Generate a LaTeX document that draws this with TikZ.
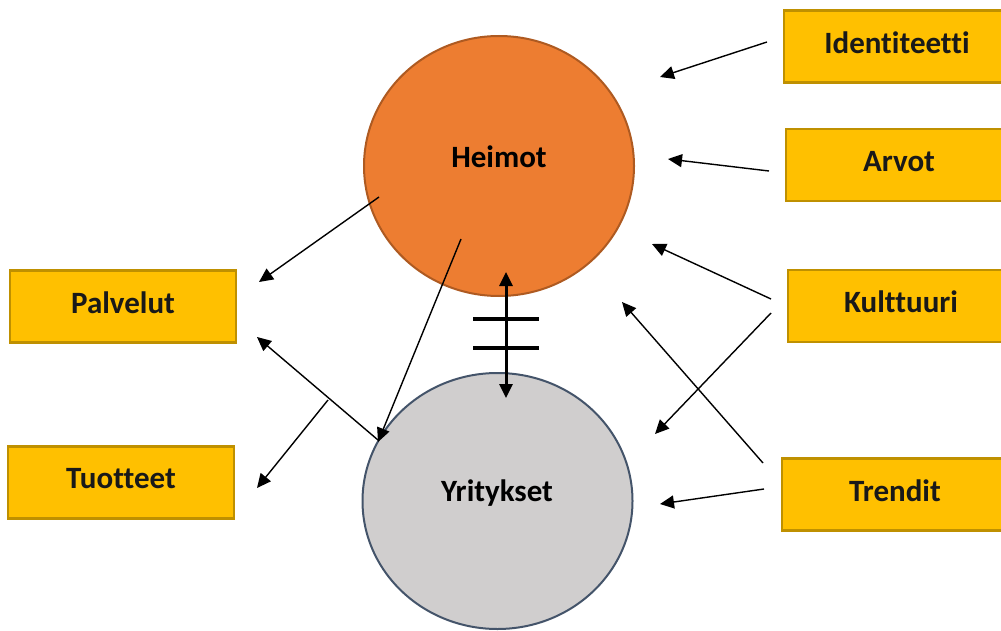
\documentclass[tikz,border=0pt]{standalone}
\usepackage{fontspec}
\setmainfont{Carlito}[Ligatures=NoCommon]
\usetikzlibrary{arrows.meta,shapes.geometric}

\definecolor{heimocol}{HTML}{ED7D31}
\definecolor{heimoline}{HTML}{AE5A21}
\definecolor{yritcol}{HTML}{D0CECE}
\definecolor{yritline}{HTML}{44546A}
\definecolor{boxcol}{HTML}{FFC000}
\definecolor{boxline}{HTML}{BF9000}

\begin{document}
\begin{tikzpicture}[x=0.5pt, y=-0.5pt, >={Triangle[length=7pt,width=6.5pt]},
                line width=0.7pt,
                main node/.style={ellipse,draw,line width=1pt,inner sep=0pt,
                  minimum width=135pt,minimum height=130pt,
                  font=\fontsize{15.5}{18}\selectfont\bfseries,text=black!90},
                term box/.style={rectangle,draw=boxline,fill=boxcol,line width=1.3pt,
                  minimum width=113pt,minimum height=36pt,text depth=4pt,
                  font=\fontsize{15.5}{18}\selectfont\bfseries,text=black!90}]

  \useasboundingbox (0,0) rectangle (1001,631);

  % the two groups
  \node[main node, fill=heimocol, draw=heimoline] (heimot) at (499,166) {};
  \node at (499,157) {\fontsize{15.5}{18}\selectfont\bfseries Heimot};
  \node[main node, fill=yritcol, draw=yritline, minimum height=128pt] (yritykset) at (497.5,501) {};
  \node at (497,493) {\fontsize{15.5}{18}\selectfont\bfseries Yritykset};

  % the terms
  \node[term box] (ident) at (897,46.5) {Identiteetti};
  \node[term box] (arvot) at (899,165) {Arvot};
  \node[term box] (kult) at (901,306) {Kulttuuri};
  \node[term box] (trend) at (895,494.5) {Trendit};
  \node[term box] (palv) at (123,306.5) {Palvelut};
  \node[term box] (tuot) at (121,482.5) {Tuotteet};

  % arrow ends
  \coordinate (i1) at (767,42);   \coordinate (i2) at (660,77);
  \coordinate (a1) at (769,171);  \coordinate (a2) at (668,159);
  \coordinate (k1) at (771,299);  \coordinate (k2) at (652,244);
  \coordinate (k3) at (771,313);  \coordinate (k4) at (655,434);
  \coordinate (t1) at (763,463);  \coordinate (t2) at (622,302);
  \coordinate (t3) at (764,489);  \coordinate (t4) at (660,504);
  \coordinate (h1) at (379,197);  \coordinate (h2) at (259,282);
  \coordinate (h3) at (461,239);  \coordinate (h4) at (378,442);
  \coordinate (y1) at (378,440);  \coordinate (y2) at (257,337);
  \coordinate (p1) at (328,400);  \coordinate (p2) at (257,488);
  \coordinate (d1) at (506,272);  \coordinate (d2) at (506,398);

  \draw[->] (i1) -- (i2);
  \draw[->] (a1) -- (a2);
  \draw[->] (k1) -- (k2);
  \draw[->] (k3) -- (k4);
  \draw[->] (t1) -- (t2);
  \draw[->] (t3) -- (t4);
  \draw[->] (h1) -- (h2);
  \draw[->] (h3) -- (h4);
  \draw[->] (y1) -- (y2);
  \draw[->] (p1) -- (p2);

  % the barred link
  \draw[<->, line width=1.5pt] (d1) -- (d2);
  \draw[line width=2pt] (473,319) -- (539,319);
  \draw[line width=2pt] (473,348) -- (539,348);
\end{tikzpicture}
\end{document}
